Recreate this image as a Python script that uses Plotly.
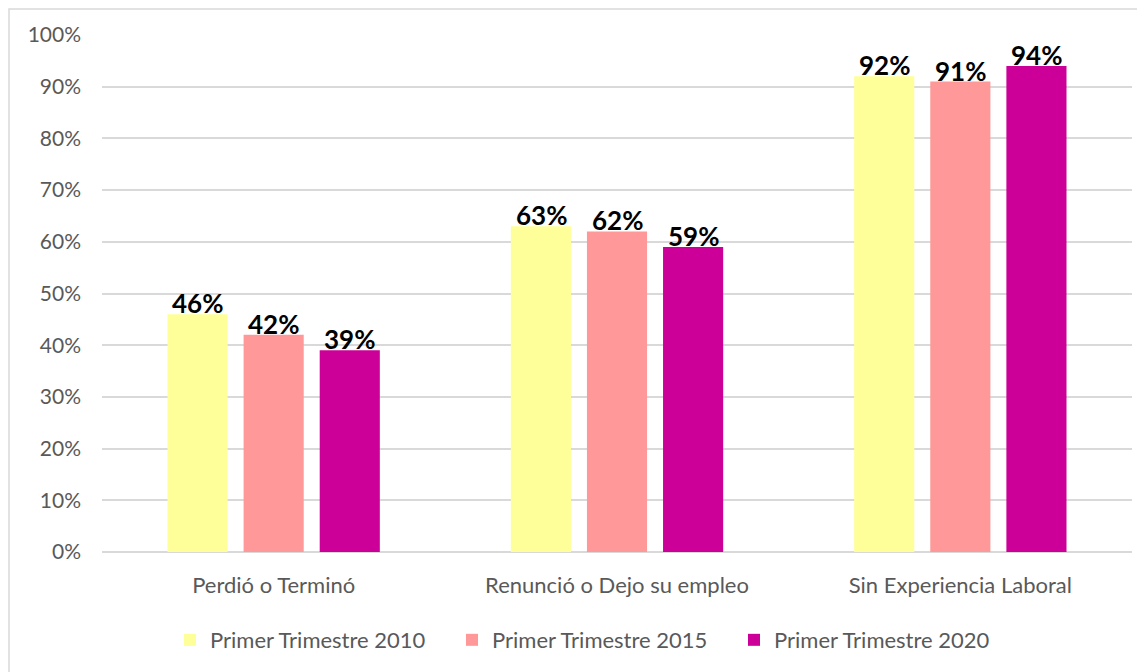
import plotly.graph_objects as go

categorias = ['Perdió o Terminó', 'Renunció o Dejo su empleo', 'Sin Experiencia Laboral']
serie_2010 = [46, 63, 92]
serie_2015 = [42, 62, 91]
serie_2020 = [39, 59, 94]
nombres = ['Primer Trimestre 2010', 'Primer Trimestre 2015', 'Primer Trimestre 2020']
colores = ['#FFFF99', '#FF9999', '#CC0099']

FUENTE = 'Lato'

# la página ya deja 8px de margen en el body
W, H = 1137, 664
L, R, T, B = 94, 13, 27, 119
pw, ph = W - L - R, H - T - B

fig = go.Figure()
desplazamientos = [-76, 0, 76]
for nombre, valores, color, dx in zip(nombres, [serie_2010, serie_2015, serie_2020], colores, desplazamientos):
    fig.add_trace(go.Bar(
        x=categorias,
        y=valores,
        name=nombre,
        marker=dict(color=color, line=dict(width=0)),
    ))
    # etiquetas de datos (apoyadas sobre el borde de la barra, como en Excel)
    for cat, v in zip(categorias, valores):
        fig.add_annotation(x=cat, y=v, text=f'<b>{v}%</b>', showarrow=False,
                           xshift=dx, yshift=-7, yanchor='bottom',
                           font=dict(family=FUENTE, size=26, color='black'))

# borde del gráfico
fig.add_shape(type='rect', xref='paper', yref='paper',
              x0=(1 - L) / pw, x1=(W + 5 - L) / pw,
              y0=-(B + 5) / ph, y1=(H - B - 1) / ph,
              line=dict(color='#D9D9D9', width=1.5), fillcolor='rgba(0,0,0,0)', layer='below')

fig.update_layout(
    width=W, height=H,
    margin=dict(l=L, r=R, t=T, b=B),
    barmode='group',
    bargap=0.335,
    bargroupgap=0.21,
    plot_bgcolor='white',
    paper_bgcolor='white',
    font=dict(family=FUENTE, color='#595959'),
    yaxis=dict(range=[0, 100], dtick=10, ticksuffix='%', gridcolor='#D9D9D9', gridwidth=1.5,
               zeroline=True, zerolinecolor='#D9D9D9', zerolinewidth=1.5,
               tickfont=dict(family=FUENTE, size=21, color='#595959'), ticks='', ticklabelstandoff=20),
    xaxis=dict(tickfont=dict(family=FUENTE, size=22, color='#595959'), showgrid=False, showline=False,
               ticklabelstandoff=18),
    legend=dict(orientation='h', x=(170 - 8 - L) / pw, xanchor='left', y=-0.168, yanchor='middle',
                font=dict(family=FUENTE, size=22, color='#595959'), itemwidth=30,
                entrywidth=237, traceorder='normal'),
    showlegend=True,
)

fig.write_html('out.html')
